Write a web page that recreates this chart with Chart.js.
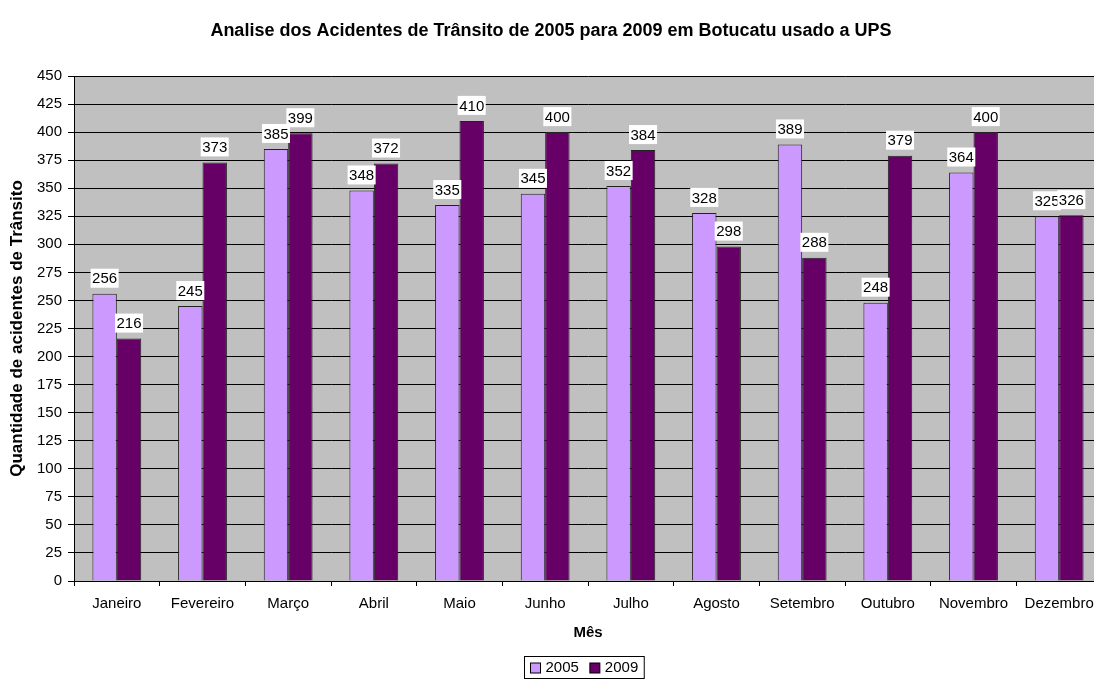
<!DOCTYPE html>
<html>
<head>
<meta charset="utf-8">
<script src="https://cdn.jsdelivr.net/npm/chart.js@4/dist/chart.umd.min.js"></script>
<style>
  html, body { margin: 0; padding: 0; background: #fff; overflow: hidden; }
  #wrap { position: absolute; left: 0; top: 0; width: 1104px; height: 680px; }
</style>
</head>
<body>
<div id="wrap"><canvas id="grafico" width="1104" height="680"></canvas></div>
<script>
// Dados mensais de acidentes
const meses = ['Janeiro', 'Fevereiro', 'Março', 'Abril', 'Maio', 'Junho', 'Julho', 'Agosto', 'Setembro', 'Outubro', 'Novembro', 'Dezembro'];
const acidentes2005 = [256, 245, 385, 348, 335, 345, 352, 328, 389, 248, 364, 325];
const acidentes2009 = [216, 373, 399, 372, 410, 400, 384, 298, 288, 379, 400, 326];

const FONTE = 'Arial, "Liberation Sans", sans-serif';

// Fundo cinza da área de plotagem
const fundoPlot = {
    id: 'fundoPlot',
    beforeDraw(chart) {
        const a = chart.chartArea;
        const ctx = chart.ctx;
        ctx.save();
        ctx.fillStyle = '#C0C0C0';
        ctx.fillRect(a.left, a.top, a.right - a.left, a.bottom - a.top);
        ctx.restore();
    }
};

// Rótulos de valor com caixa branca acima das barras
const rotulos = {
    id: 'rotulos',
    afterDatasetsDraw(chart) {
        const ctx = chart.ctx;
        ctx.save();
        ctx.font = '15px ' + FONTE;
        ctx.textAlign = 'center';
        ctx.textBaseline = 'middle';
        chart.data.datasets.forEach(function(ds, i) {
            const meta = chart.getDatasetMeta(i);
            meta.data.forEach(function(bar, j) {
                const txt = String(ds.data[j]);
                const w = ctx.measureText(txt).width + 3;
                const h = 19;
                const y = bar.y - 6 - h;
                ctx.fillStyle = '#fff';
                ctx.fillRect(bar.x - w / 2, y, w, h);
                ctx.fillStyle = '#000';
                ctx.fillText(txt, bar.x, y + h / 2 + 1);
            });
        });
        ctx.restore();
    }
};

// Legenda com moldura, abaixo do título do eixo X
const legendaMoldura = {
    id: 'legendaMoldura',
    afterDraw(chart) {
        const ctx = chart.ctx;
        ctx.save();
        ctx.font = '15px ' + FONTE;
        ctx.textBaseline = 'middle';
        const itens = chart.data.datasets;
        const quad = 10, gap = 5, esp = 11, pad = 6;
        let total = pad * 2;
        itens.forEach(function(ds, i) {
            total += quad + gap + ctx.measureText(ds.label).width;
            if (i < itens.length - 1) total += esp;
        });
        const cx = (chart.chartArea.left + chart.chartArea.right) / 2 - 4;
        const top = 656, h = 22;
        let x = Math.round(cx - total / 2) + 0.5;
        ctx.strokeStyle = '#000';
        ctx.lineWidth = 1;
        ctx.strokeRect(x, top + 0.5, total, h);
        x += pad;
        const my = top + h / 2 + 1;
        itens.forEach(function(ds) {
            ctx.fillStyle = ds.backgroundColor;
            ctx.fillRect(x, my - quad / 2, quad, quad);
            ctx.strokeRect(x, my - quad / 2, quad, quad);
            x += quad + gap;
            ctx.fillStyle = '#000';
            ctx.fillText(ds.label, x, my);
            x += ctx.measureText(ds.label).width + esp;
        });
        ctx.restore();
    }
};

const ctx = document.getElementById('grafico').getContext('2d');
new Chart(ctx, {
    type: 'bar',
    data: {
        labels: meses,
        datasets: [
            {
                label: '2005',
                data: acidentes2005,
                backgroundColor: '#CC99FF',
                borderColor: '#222',
                borderWidth: 1,
                categoryPercentage: 0.57,
                barPercentage: 1.0
            },
            {
                label: '2009',
                data: acidentes2009,
                backgroundColor: '#660066',
                borderColor: '#222',
                borderWidth: 1,
                categoryPercentage: 0.57,
                barPercentage: 1.0
            }
        ]
    },
    options: {
        responsive: false,
        devicePixelRatio: 1,
        animation: false,
        layout: { padding: { left: 0, right: 2, top: 0, bottom: 38 } },
        plugins: {
            legend: { display: false },
            tooltip: { enabled: false },
            title: {
                display: true,
                text: 'Analise dos Acidentes de Trânsito de 2005 para 2009 em Botucatu usado a UPS',
                color: '#000',
                font: { family: FONTE, size: 18, weight: 'bold' },
                padding: { top: 20, bottom: 34.4 }
            }
        },
        scales: {
            x: {
                grid: {
                    display: true,
                    drawOnChartArea: false,
                    drawTicks: true,
                    tickLength: 5,
                    offset: true,
                    color: '#000'
                },
                border: { color: '#000' },
                ticks: {
                    color: '#000',
                    font: { family: FONTE, size: 15 },
                    padding: 9,
                    maxRotation: 0,
                    autoSkip: false
                },
                title: {
                    display: true,
                    text: 'Mês',
                    color: '#000',
                    font: { family: FONTE, size: 15, weight: 'bold' },
                    padding: { top: 4, bottom: 0 }
                },
                afterFit(scale) { scale.height = 61; }
            },
            y: {
                min: 0,
                max: 450,
                grid: { color: '#000', tickLength: 6 },
                border: { color: '#000' },
                ticks: {
                    stepSize: 25,
                    color: '#000',
                    font: { family: FONTE, size: 15 },
                    padding: 6
                },
                title: {
                    display: true,
                    text: 'Quantidade de acidentes de Trânsito',
                    color: '#000',
                    font: { family: FONTE, size: 17, weight: 'bold' },
                    padding: { top: 7, bottom: 0 }
                },
                afterFit(scale) { scale.width = 74; }
            }
        }
    },
    plugins: [fundoPlot, rotulos, legendaMoldura]
});
</script>
</body>
</html>
